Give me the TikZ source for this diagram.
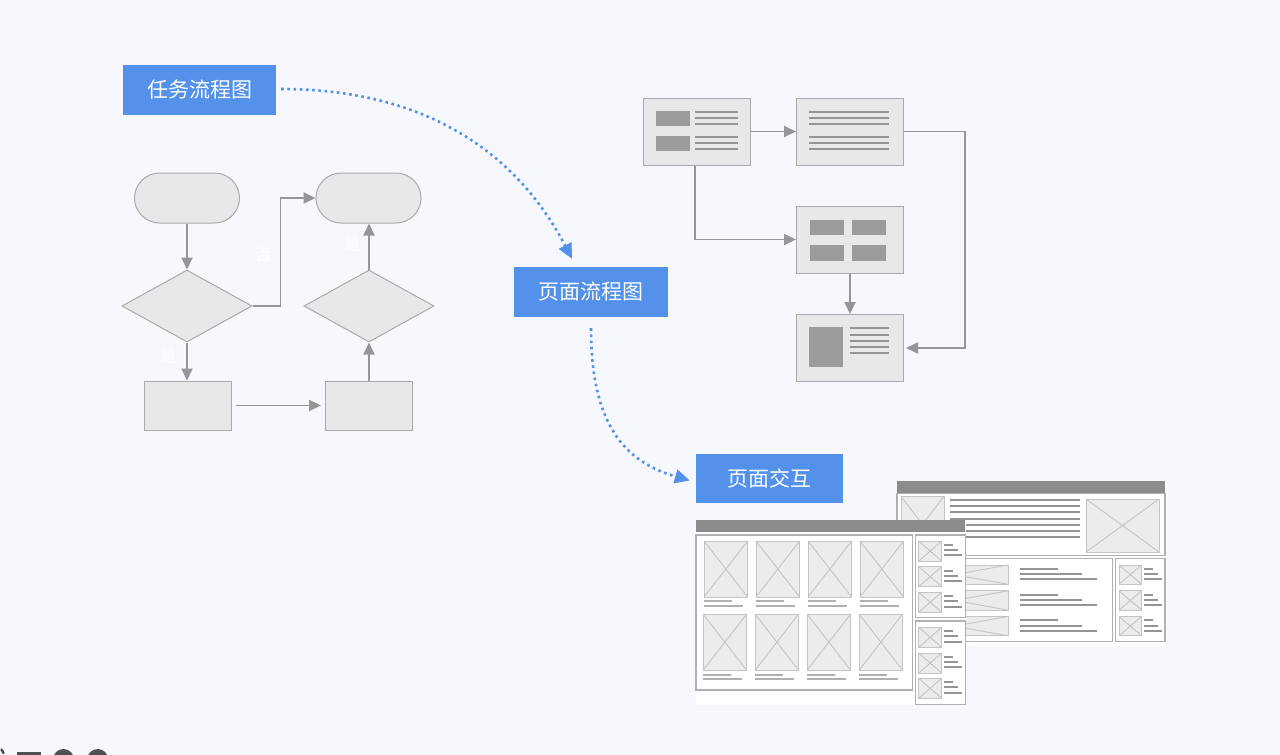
\documentclass[tikz,border=0pt]{standalone}
\usepackage{fontspec}
\newfontfamily\cjk{Noto Sans CJK SC}
\usetikzlibrary{shapes.geometric,arrows.meta,calc}
\definecolor{bg}{RGB}{247,248,253}
\definecolor{lblue}{RGB}{84,145,235}
\definecolor{fcfill}{RGB}{232,232,232}
\definecolor{fcline}{RGB}{170,170,170}
\definecolor{conn}{RGB}{150,150,150}
\definecolor{darkblk}{RGB}{155,155,155}
\definecolor{barcol}{RGB}{140,140,140}
\definecolor{imgfill}{RGB}{236,236,236}
\definecolor{imgline}{RGB}{196,196,196}
\definecolor{wfline}{RGB}{148,148,148}
\definecolor{txtline}{RGB}{176,176,176}
\definecolor{wfbox}{RGB}{176,176,176}
\definecolor{icon}{RGB}{80,80,80}
\tikzset{
  lbl/.style={fill=lblue,text=white,font=\cjk\fontsize{21}{25}\selectfont,minimum height=50pt,inner sep=0pt},
  term/.style={fill=fcfill,draw=fcline,line width=1pt,rounded corners=25pt,minimum width=105pt,minimum height=50pt,inner sep=0pt},
  dia/.style={diamond,fill=fcfill,draw=fcline,line width=1pt,minimum width=130pt,minimum height=72pt,inner sep=0pt},
  fbox/.style={fill=fcfill,draw=fcline,line width=1pt,minimum width=87pt,minimum height=49pt,inner sep=0pt},
  pbox/.style={fill=fcfill,draw=fcline,line width=1pt,minimum width=107pt,minimum height=67pt,inner sep=0pt},
  garr/.style={draw=conn,line width=1.9pt,-{Triangle[length=12pt,width=11pt]}},
  darr/.style={draw=lblue,line width=2.6pt,dash pattern=on 2.6pt off 3.6pt,-{Triangle[length=15pt,width=14pt]}},
  ylbl/.style={text=white,font=\cjk\fontsize{16}{18}\selectfont,inner sep=0pt},
  dblk/.style={fill=darkblk},
  wl/.style={draw=wfline,line width=2pt},
  tl/.style={draw=txtline,line width=2pt},
  wbox/.style={draw=wfbox,line width=1.1pt,fill=white},
  img/.style={draw=imgline,line width=1pt,fill=imgfill},
  imgx/.style={draw=imgline,line width=0.9pt}
}
\newcommand{\wfimg}[4]{%
  \draw[img] (#1,#2) rectangle (#3,#4);
  \draw[imgx] (#1,#2) -- (#3,#4) (#1,#4) -- (#3,#2);}
\begin{document}
\begin{tikzpicture}[x=1pt,y=-1pt]
\fill[bg] (0,0) rectangle (1280,755);
\useasboundingbox (0,0) rectangle (1280,755);

% ---------- labels ----------
\node[lbl,minimum width=153pt] (L1) at (199.5,90) {任务流程图};
\node[lbl,minimum width=154pt] (L2) at (591,292) {页面流程图};
\node[lbl,minimum width=147pt,minimum height=49pt] (L3) at (769.5,478.5) {页面交互};

\draw[darr] ($(L1.east)+(5,-1)$) .. controls (410,89) and (510,140) .. ($(L2.north)+(-19,-8)$);
\draw[darr] ($(L2.south)+(0,11)$) .. controls (591,425) and (625,462) .. ($(L3.west)+(-6,2)$);

% ---------- task flowchart ----------
\node[term] (T1) at (187,198) {};
\node[term] (T2) at (368.5,198) {};
\node[dia] (D1) at (187,306) {};
\node[dia] (D2) at (369,306) {};
\node[fbox] (R1) at (187.5,405.5) {};
\node[fbox] (R2) at (369,405.5) {};

\draw[garr] (T1.south) -- (D1.north);
\draw[garr] (D1.east) -- ++(28,0) |- (T2.west);
\draw[garr] (D1.south) -- (D1.south |- R1.north);
\draw[garr] ($(R1.east)+(4,0)$) -- ($(R2.west)+(-4,0)$);
\draw[garr] (R2.north) -- (D2.south);
\draw[garr] (D2.north) -- (D2.north |- T2.south);

\node[ylbl] (no1) at (263,255) {否};
\node[ylbl] (yes1) at (168,357) {是};
\node[ylbl] (yes2) at (352,245) {是};

% ---------- page flowchart ----------
\node[pbox] (P1) at (696.5,131.5) {};
\node[pbox] (P2) at (850,131.5) {};
\node[pbox] (P3) at (850,239.5) {};
\node[pbox] (P4) at (850,348) {};

% P1 content
\fill[dblk] (656,110.7) rectangle (690,126);
\fill[dblk] (656,135.7) rectangle (690,151.3);
\foreach \y in {111.7,118,124,136.7,142.7,149}
  \draw[wl] (695,\y) -- (738,\y);
% P2 content
\foreach \y in {111.7,118,124,136.7,142.7,149}
  \draw[wl] (809,\y) -- (889,\y);
% P3 content
\fill[dblk] (810,219.7) rectangle (843.7,234.7);
\fill[dblk] (852,219.7) rectangle (886,234.7);
\fill[dblk] (810,245.3) rectangle (843.7,260.7);
\fill[dblk] (852,245.3) rectangle (886,260.7);
% P4 content
\fill[dblk] (809,327.3) rectangle (842.7,367);
\foreach \y in {328.3,334.7,341,347,353.3}
  \draw[wl] (850,\y) -- (889.3,\y);

\draw[garr] (P1.east) -- (P2.west);
\draw[garr] ($(P1.south)+(-1.5,0)$) |- (P3.west);
\draw[garr] (P3.south) -- (P4.north);
\draw[garr] (P2.east) -- ++(61,0) |- ($(P4.east)+(2,0)$);

% ---------- back wireframe window ----------
\fill[white] (897,481) rectangle (1166,646);
\fill[barcol] (897,481) rectangle (1165,493.3);
\draw[wbox] (897,493.3) rectangle (1165,555.7);
\wfimg{901}{496.5}{944}{552}
\foreach \i in {0,...,6}
  \draw[wl] (950,500+6.2*\i) -- (1080,500+6.2*\i);
\wfimg{1086}{499}{1159}{552}
\draw[wbox] (898,558.7) rectangle (1112.3,641.7);
\foreach \t in {565,590.8,616.5}{
  \wfimg{901}{\t}{1008}{\t+19.3}
  \draw[wl] (1020,\t+3.7) -- (1058.3,\t+3.7);
  \draw[wl] (1020,\t+9) -- (1081.7,\t+9);
  \draw[wl] (1020,\t+14.3) -- (1097.3,\t+14.3);
}
\draw[wbox] (1115.7,558.7) rectangle (1165,641.7);
\foreach \t in {565,590.8,616.5}{
  \wfimg{1119}{\t}{1141.7}{\t+19.3}
  \draw[wl] (1144,\t+3.7) -- (1152.7,\t+3.7);
  \draw[wl] (1144,\t+9) -- (1157.7,\t+9);
  \draw[wl] (1144,\t+14.3) -- (1161.7,\t+14.3);
}

% ---------- front wireframe window ----------
\fill[white] (696,520) rectangle (965.5,704.5);
\fill[barcol] (696,520.3) rectangle (965.3,532);
\draw[wbox] (696,535) rectangle (912.7,690);
\foreach \x in {704,756,808,860}{
  \wfimg{\x}{541}{\x+43.7}{597}
  \draw[tl] (\x,601.3) -- (\x+28,601.3);
  \draw[tl] (\x,606) -- (\x+39.3,606);
}
\foreach \x in {703,755,807,859}{
  \wfimg{\x}{614}{\x+43.7}{670.3}
  \draw[tl] (\x,674.7) -- (\x+28,674.7);
  \draw[tl] (\x,679.3) -- (\x+39.3,679.3);
}
\draw[wbox] (915.7,535) rectangle (965.3,617.7);
\draw[wbox] (915.7,621) rectangle (965.3,704.3);
\foreach \t in {541,566.7,592.3,627.3,653,678.3}{
  \wfimg{918.7}{\t}{941.7}{\t+20}
  \draw[wl] (944,\t+4) -- (952.7,\t+4);
  \draw[wl] (944,\t+9) -- (958.3,\t+9);
  \draw[wl] (944,\t+14.3) -- (961.7,\t+14.3);
}

% ---------- cut-off icons at bottom left ----------
\begin{scope}
\clip (0,0) rectangle (1280,755);
\draw[icon,line width=2.5pt,line cap=round] (1.5,749.5) -- (3.5,753);
\fill[icon] (16.7,751.7) rectangle (40.7,760);
\fill[icon] (63.5,759.5) circle (10.5);
\fill[icon] (97.7,759.5) circle (10.5);
\end{scope}
\end{tikzpicture}
\end{document}
